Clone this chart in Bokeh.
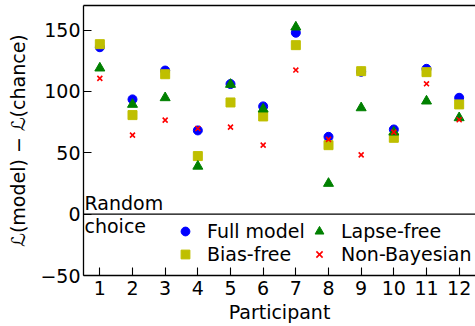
from bokeh.plotting import figure
from bokeh.models import (LinearAxis, FixedTicker, Legend, LegendItem, Span, Label, Range1d)
from bokeh.embed import file_html
from bokeh.resources import INLINE

# Log-likelihood gain over random choice, per participant and model variant
participants = [1, 2, 3, 4, 5, 6, 7, 8, 9, 10, 11, 12]
full_model = [136, 93.5, 117, 68.2, 106, 87.8, 147.8, 63, 116, 69, 118.4, 94.8]
bias_free = [138.5, 80.7, 114, 47.3, 91, 79.6, 137.7, 56.2, 116.5, 62.2, 115.7, 89.4]
lapse_free = [119, 89.4, 94.8, 39, 105.7, 85.6, 152.4, 25, 86.6, 66.8, 92.1, 78.5]
non_bayesian = [110.6, 64.4, 76.6, 69.8, 70.9, 56.2, 117.4, 60.9, 48.3, 66.8, 106.2, 76.9]

y_ticks = [-50, 0, 50, 100, 150]

FONT = "DejaVu Sans"
FS = "19px"

p = figure(width=475, height=326, output_backend="svg", toolbar_location=None,
           x_range=Range1d(0.5, 12.5), y_range=Range1d(-50, 170),
           x_axis_type=None, y_axis_type=None,
           min_border_left=83, min_border_right=0, min_border_top=5, min_border_bottom=51)
p.grid.visible = False
p.outline_line_color = None
p.background_fill_color = "white"
p.border_fill_color = "white"


def style_axis(ax):
    ax.axis_line_color = "black"
    ax.axis_line_width = 1.3
    ax.major_tick_line_color = "black"
    ax.major_tick_line_width = 1.1
    ax.major_tick_in = 8
    ax.major_tick_out = 0
    ax.minor_tick_line_color = None
    ax.major_label_text_font = FONT
    ax.major_label_text_font_size = FS
    ax.major_label_text_color = "black"
    ax.axis_label_text_font = FONT
    ax.axis_label_text_font_size = FS
    ax.axis_label_text_font_style = "normal"
    ax.axis_label_text_color = "black"


xaxis = LinearAxis(ticker=FixedTicker(ticks=participants), axis_label="Participant")
style_axis(xaxis)
xaxis.major_label_standoff = 5
xaxis.axis_label_standoff = 3
p.add_layout(xaxis, "below")

yaxis = LinearAxis(ticker=FixedTicker(ticks=y_ticks), axis_label="ℒ(model) − ℒ(chance)")
style_axis(yaxis)
yaxis.major_label_standoff = 3
yaxis.axis_label_standoff = 8
yaxis.major_label_overrides = {t: (str(t) if t >= 0 else "−" + str(-t)) for t in y_ticks}
p.add_layout(yaxis, "left")

# top spine only
top = LinearAxis(ticker=FixedTicker(ticks=[]))
top.axis_line_color = "black"
top.axis_line_width = 1.3
top.major_tick_line_color = None
top.minor_tick_line_color = None
top.major_label_text_font_size = "0px"
top.major_label_standoff = 0
p.add_layout(top, "above")

# chance level
p.add_layout(Span(location=0, dimension="width", line_color="black", line_width=1.3))
p.add_layout(Label(x=0.5, y=9.3, x_offset=1, text="Random", text_font=FONT,
                   text_font_size=FS, text_baseline="alphabetic", text_color="black"))
p.add_layout(Label(x=0.5, y=-9.8, x_offset=1, text="choice", text_font=FONT,
                   text_font_size=FS, text_baseline="alphabetic", text_color="black"))

r_full = p.scatter(participants, full_model, marker="circle", size=9,
                   fill_color="#0000ff", line_color="#0000ff")
r_bias = p.scatter(participants, bias_free, marker="square", size=9,
                   fill_color="#bfbf00", line_color="#bfbf00")
r_lapse = p.scatter(participants, lapse_free, marker="triangle", size=10,
                    fill_color="#008000", line_color="#008000")
r_nb = p.scatter(participants, non_bayesian, marker="x", size=7,
                 line_color="#ff0000", line_width=1.6)


def make_legend(items, loc):
    lg = Legend(items=items, location=loc, orientation="vertical")
    lg.border_line_color = None
    lg.background_fill_alpha = 0
    lg.padding = 0
    lg.margin = 0
    lg.spacing = 1
    lg.glyph_width = 22
    lg.glyph_height = 22
    lg.label_height = 22
    lg.label_standoff = 11
    lg.label_text_font = FONT
    lg.label_text_font_size = FS
    lg.label_text_color = "black"
    return lg


p.add_layout(make_legend([LegendItem(label="Full model", renderers=[r_full]),
                          LegendItem(label="Bias-free", renderers=[r_bias])], (91, 10)), "center")
p.add_layout(make_legend([LegendItem(label="Lapse-free", renderers=[r_lapse]),
                          LegendItem(label="Non-Bayesian", renderers=[r_nb])], (225, 10)), "center")

open("out.html", "w").write(file_html(p, INLINE))
